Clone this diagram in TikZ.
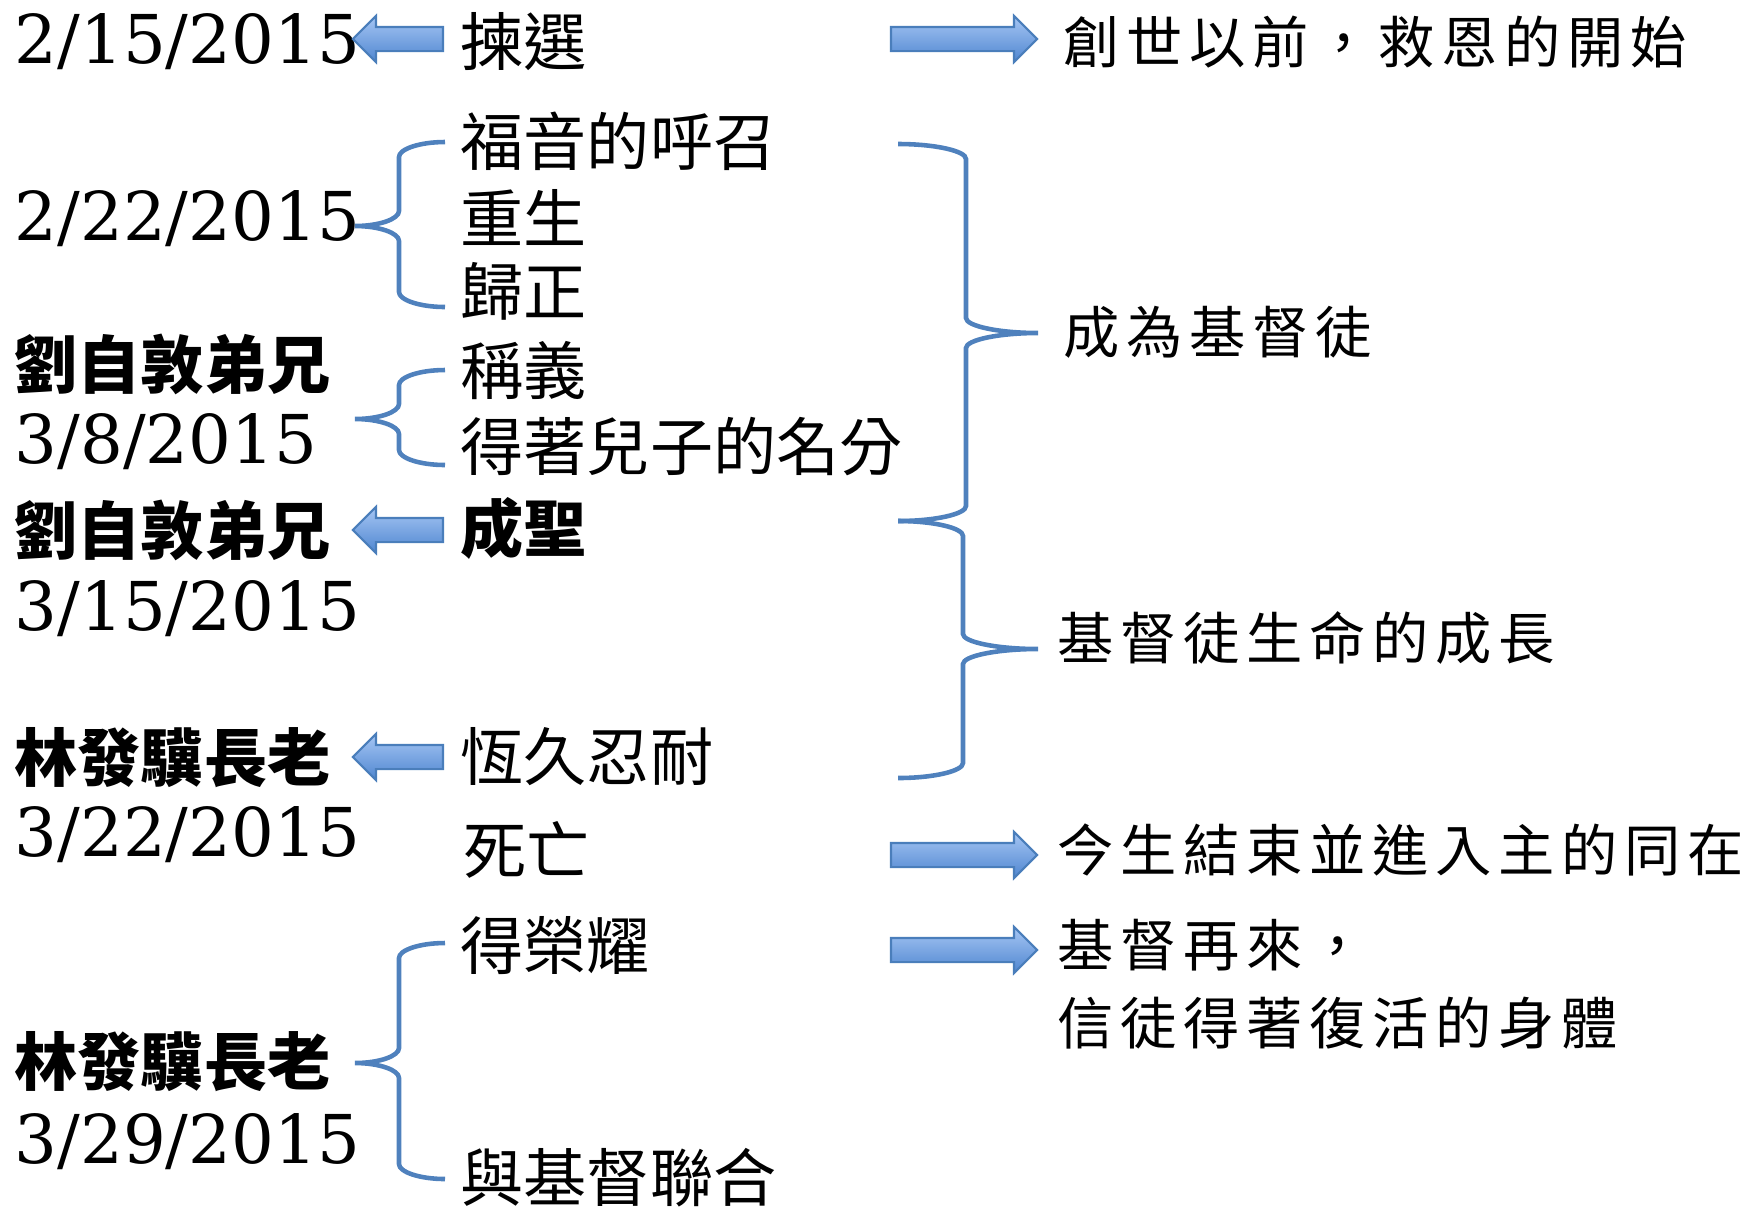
\documentclass[tikz,border=0pt]{standalone}
\usepackage{fontspec}
\newfontfamily\cjk{Noto Sans CJK TC}
\newfontfamily\cjkwide[LetterSpace=12]{Noto Sans CJK TC}
\newfontfamily\datefont{DejaVu Serif}
\usetikzlibrary{shapes.arrows}
\definecolor{bracecol}{HTML}{4F81BD}
\definecolor{arrowline}{HTML}{4A7EBB}
\definecolor{arrowtop}{HTML}{A6C6F4}
\definecolor{arrowbot}{HTML}{4F86D0}
\tikzset{
  day/.style={anchor=base west, inner sep=0pt, font=\datefont\fontsize{19.15}{22}\selectfont},
  stage/.style={anchor=west, inner sep=0pt, font=\cjk\fontsize{17.95}{20}\selectfont},
  who/.style={anchor=west, inner sep=0pt, font=\cjk\bfseries\fontsize{17.95}{20}\selectfont},
  result/.style={anchor=west, inner sep=0pt, align=left, font=\cjkwide\fontsize{16}{22.2}\selectfont},
  barrow/.style={single arrow, draw=arrowline, line width=0.6pt, top color=arrowtop, bottom color=arrowbot,
    inner xsep=0pt, inner ysep=0.11cm, text height=0pt, text depth=0pt, minimum width=0.44cm,
    single arrow head extend=0.11cm, single arrow tip angle=90},
  brc/.style={draw=bracecol, line width=1.3pt},
}
% curly brace: end x, spine x, tip x, top y, tip y, bottom y
\newcommand{\curly}[6]{%
  \draw[brc] (#1,#4) .. controls ({#1+.55*(#2-#1)},#4) and (#2,{#4+7}) .. (#2,{#4+15})
    -- (#2,{#5-15}) .. controls (#2,{#5-7}) and ({#3+.55*(#2-#3)},#5) .. (#3,#5)
    .. controls ({#3+.55*(#2-#3)},#5) and (#2,{#5+7}) .. (#2,{#5+15})
    -- (#2,{#6-15}) .. controls (#2,{#6-7}) and ({#1+.55*(#2-#1)},#6) .. (#1,#6);}
\begin{document}
\begin{tikzpicture}[x=0.01cm, y=-0.01cm]
\useasboundingbox (0,0) rectangle (1758,1208);
% dates and speakers
\node[day] (d0215) at (14,63) {2/15/2015};
\node[day] (d0222) at (14,240) {2/22/2015};
\node[who] (liuA) at (14,364) {劉自敦弟兄};
\node[day] (d0308) at (14,463) {3/8/2015};
\node[who] (liuB) at (14,530) {劉自敦弟兄};
\node[day] (d0315) at (14,630) {3/15/2015};
\node[who] (linA) at (14,758) {林發驥長老};
\node[day] (d0322) at (14,856) {3/22/2015};
\node[who] (linB) at (14,1062) {林發驥長老};
\node[day] (d0329) at (14,1163) {3/29/2015};
% stages
\node[stage] (elect) at (460,42) {揀選};
\node[stage] (call) at (460,141) {福音的呼召};
\node[stage] (regen) at (460,217) {重生};
\node[stage] (conv) at (460,291) {歸正};
\node[stage] (justif) at (460,370) {稱義};
\node[stage] (adopt) at (460,447) {得著兒子的名分};
\node[who] (sanct) at (460,528) {成聖};
\node[stage] (persev) at (460,757) {恆久忍耐};
\node[stage] (death) at (463,850) {死亡};
\node[stage] (glory) at (460,946) {得榮耀};
\node[stage] (union) at (460,1178) {與基督聯合};
% results
\node[result] (before) at (1063,42) {創世以前，救恩的開始};
\node[result] (become) at (1063,332) {成為基督徒};
\node[result] (growth) at (1057,638) {基督徒生命的成長};
\node[result] (presence) at (1057,850) {今生結束並進入主的同在};
\node[result] (return) at (1057,984) {基督再來，\\信徒得著復活的身體};
% block arrows
\node[barrow, minimum height=0.9cm, shape border rotate=180] (arrA) at (404,39) {};
\node[barrow, minimum height=0.9cm, shape border rotate=180] (arrB) at (404,530) {};
\node[barrow, minimum height=0.9cm, shape border rotate=180] (arrC) at (404,757) {};
\node[barrow, minimum height=1.46cm] (arrD) at (958,39) {};
\node[barrow, minimum height=1.46cm] (arrE) at (958,855) {};
\node[barrow, minimum height=1.46cm] (arrF) at (958,950) {};
% braces
\curly{445}{399}{355}{142}{226}{307}
\curly{445}{399}{355}{370}{419}{465}
\curly{445}{399}{355}{943}{1063}{1179}
\curly{898}{966}{1038}{144}{333}{521}
\curly{898}{963}{1038}{521}{649}{778}
\end{tikzpicture}
\end{document}
